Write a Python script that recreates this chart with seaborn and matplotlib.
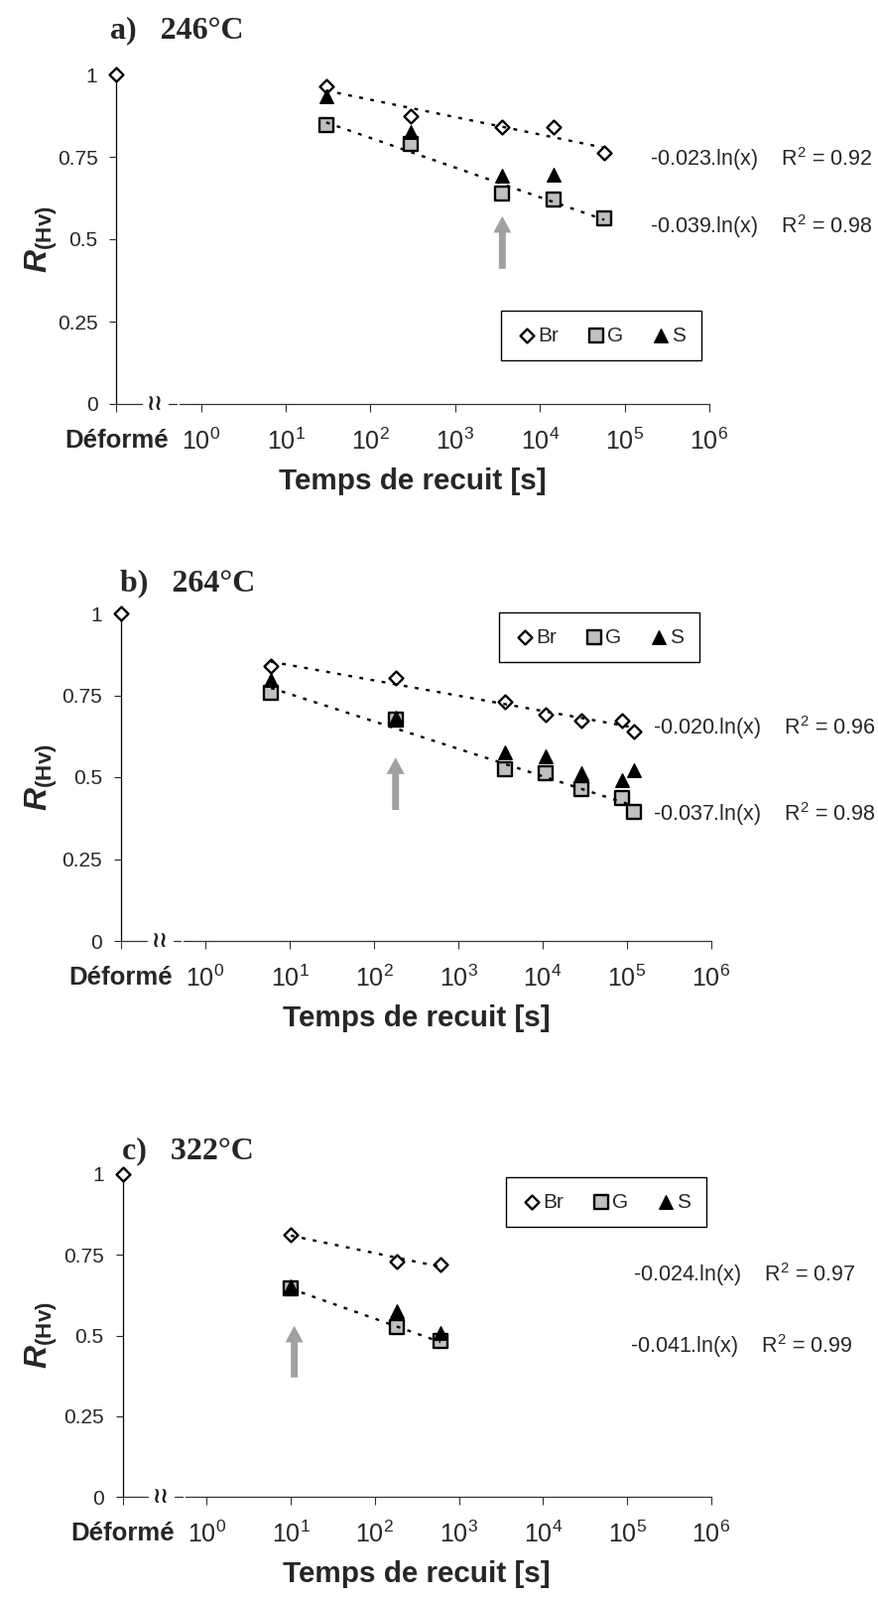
import numpy as np
import matplotlib
matplotlib.use("Agg")
import matplotlib.pyplot as plt
from matplotlib.ticker import NullLocator
import seaborn as sns

# %%
# position of the "Déformé" (as-deformed) state on the log time axis
t_deforme = 0.1
r_deforme = 1.0

# a) 246°C
t_a = [30, 300, 3600, 14400, 57600]
r_a_br = [0.963, 0.874, 0.839, 0.839, 0.762]
r_a_g = [0.846, 0.789, 0.640, 0.620, 0.563]
t_a_s = [30, 300, 3600, 14400]
r_a_s = [0.935, 0.824, 0.693, 0.695]

# b) 264°C
t_b = [6, 180, 3600, 10800, 28800, 86400, 122400]
r_b_br = [0.840, 0.803, 0.730, 0.692, 0.672, 0.674, 0.639]
r_b_g = [0.758, 0.675, 0.523, 0.512, 0.465, 0.435, 0.394]
r_b_s = [0.796, 0.682, 0.576, 0.565, 0.512, 0.492, 0.522]

# c) 322°C
t_c = [10, 180, 600]
r_c_br = [0.813, 0.730, 0.721]
r_c_g = [0.646, 0.525, 0.482]
r_c_s = [0.651, 0.574, 0.508]

titles = ["a)   246°C", "b)   264°C", "c)   322°C"]
eq_br = ["-0.023.ln(x)    R$^{2}$ = 0.92", "-0.020.ln(x)    R$^{2}$ = 0.96", "-0.024.ln(x)    R$^{2}$ = 0.97"]
eq_g = ["-0.039.ln(x)    R$^{2}$ = 0.98", "-0.037.ln(x)    R$^{2}$ = 0.98", "-0.041.ln(x)    R$^{2}$ = 0.99"]

# grey arrows (time, R tail, R head)
arrow_t = [3600, 180, 11]
arrow_r = [(0.41, 0.57), (0.40, 0.56), (0.37, 0.53)]

x_ticks = [0.1, 1, 10, 1e2, 1e3, 1e4, 1e5, 1e6]
x_labels = ["Déformé"] + [f"$10^{{{k}}}$" for k in range(7)]
y_ticks = [0, 0.25, 0.5, 0.75, 1]
y_labels = ["0", "0.25", "0.5", "0.75", "1"]

# %%
sns.set_theme(style="ticks")
plt.rcParams["font.family"] = ["Liberation Sans", "DejaVu Sans"]
plt.rcParams["mathtext.fontset"] = "custom"
plt.rcParams["mathtext.rm"] = "Liberation Sans"
plt.rcParams["mathtext.it"] = "Liberation Sans:italic"
plt.rcParams["mathtext.bf"] = "Liberation Sans:bold"
plt.rcParams["mathtext.bfit"] = "Liberation Sans:italic:bold"

fig = plt.figure(figsize=(8.85, 16.12), dpi=100)
W, H = 885, 1612

# axes boxes in pixels: (x of Deformé axis, x of 1e6, y of R=1, y of R=0)
boxes = [(117.3, 715, 75, 407), (122, 717, 618, 948), (123.6, 717, 1183, 1508)]
title_pos = [(111, 38), (121, 595), (123, 1167)]
legend_pos = [(505, 313), (503, 617), (510, 1186)]
eq_pos = [((655, 160), (655, 228)), ((658, 733), (658, 820)), ((638, 1284), (635, 1356))]

panels = [
    (t_a, r_a_br, t_a, r_a_g, t_a_s, r_a_s),
    (t_b, r_b_br, t_b, r_b_g, t_b, r_b_s),
    (t_c, r_c_br, t_c, r_c_g, t_c, r_c_s),
]

for i, (t_br, r_br, t_g, r_g, t_s, r_s) in enumerate(panels):
    x0, x1, ytop, ybot = boxes[i]
    ax = fig.add_axes([x0 / W, 1 - ybot / H, (x1 - x0) / W, (ybot - ytop) / H])
    ax.set_xscale("log")

    def fx(px):
        return (px - x0) / (x1 - x0)

    def fy(py):
        return (ybot - py) / (ybot - ytop)

    # markers
    sns.scatterplot(x=[t_deforme], y=[r_deforme], marker="D", s=50, color="white",
                    edgecolor="black", linewidth=1.7, ax=ax, zorder=4, clip_on=False)
    sns.scatterplot(x=t_br, y=r_br, marker="D", s=50, color="white", edgecolor="black",
                    linewidth=1.7, ax=ax, label="Br", zorder=4, clip_on=False)
    sns.scatterplot(x=t_g, y=r_g, marker="s", s=95, color="#c0c0c0", edgecolor="black",
                    linewidth=1.7, ax=ax, label="G", zorder=3, clip_on=False)
    sns.scatterplot(x=t_s, y=r_s, marker="^", s=95, color="black", edgecolor="black",
                    linewidth=1.0, ax=ax, label="S", zorder=4, clip_on=False)

    # log trend lines (Br and G)
    line_kws = dict(color="black", lw=1.7, ls=(0, (1.6, 3.2)), zorder=6)
    sns.regplot(x=t_br, y=r_br, logx=True, ci=None, scatter=False, ax=ax, line_kws=line_kws)
    sns.regplot(x=t_g, y=r_g, logx=True, ci=None, scatter=False, ax=ax, line_kws=line_kws)

    # grey arrow
    ax.annotate("", xy=(arrow_t[i], arrow_r[i][1]), xytext=(arrow_t[i], arrow_r[i][0]),
                arrowprops=dict(arrowstyle="simple,head_length=12,head_width=13,tail_width=5",
                                mutation_scale=1, color="#a0a0a0", lw=0,
                                shrinkA=0, shrinkB=0), zorder=2)

    ax.set_xlim(0.1, 1e6)
    ax.set_ylim(0, 1)
    ax.set_xticks(x_ticks, x_labels)
    ax.xaxis.set_minor_locator(NullLocator())
    ax.set_yticks(y_ticks, y_labels)
    ax.tick_params(axis="x", direction="out", length=5.8, width=0.8, pad=12,
                   labelsize=18, color="#333333")
    ax.tick_params(axis="y", direction="out", length=5, width=0.8, pad=8.6, labelsize=15)
    lab0 = ax.get_xticklabels()[0]
    lab0.set_fontweight("bold")
    lab0.set_fontsize(18.5)

    sns.despine(ax=ax)
    ax.spines["left"].set_linewidth(0.9)
    ax.spines["left"].set_color("black")
    ax.spines["bottom"].set_linewidth(0.9)
    ax.spines["bottom"].set_color("#333333")
    ax.spines["bottom"].set_bounds(10 ** -0.255, 1e6)

    # axis break marks near the origin
    ax.plot([0.1, 10 ** -0.70], [0, 0], color="#333333", lw=0.9, clip_on=False)
    ax.plot([10 ** -0.38, 10 ** -0.29], [0, 0], color="#333333", lw=0.9, clip_on=False)
    ax.text(10 ** -0.55, 0, "≀≀", ha="center", va="center", fontsize=16,
            fontweight="bold", family="DejaVu Sans", color="#222222")

    ax.set_xlabel("Temps de recuit [s]", fontsize=21.3, fontweight="bold", labelpad=9)
    ax.set_ylabel(r"$\mathbfit{R}_{\mathbf{(Hv)}}$", fontsize=23)
    ax.yaxis.set_label_coords(fx(60), 0.5)

    ax.text(fx(title_pos[i][0]), fy(title_pos[i][1]), titles[i], transform=ax.transAxes,
            ha="left", va="baseline", fontsize=23, fontweight="bold",
            family="Liberation Serif")

    for (px, py), s in zip(eq_pos[i], [eq_br[i], eq_g[i]]):
        ax.text(fx(px), fy(py), s, transform=ax.transAxes, ha="left", va="center",
                fontsize=15.5)

    lx, ly = legend_pos[i]
    ax.legend(loc="upper left", bbox_to_anchor=(fx(lx), fy(ly)), ncol=3, fontsize=15,
              frameon=True, fancybox=False, edgecolor="black", framealpha=1,
              handletextpad=0.05, columnspacing=1.3, handlelength=1.0,
              borderpad=0.75, borderaxespad=0, scatterpoints=1)
    ax.get_legend().get_frame().set_linewidth(1.0)

fig.savefig("out.png", dpi=100)
